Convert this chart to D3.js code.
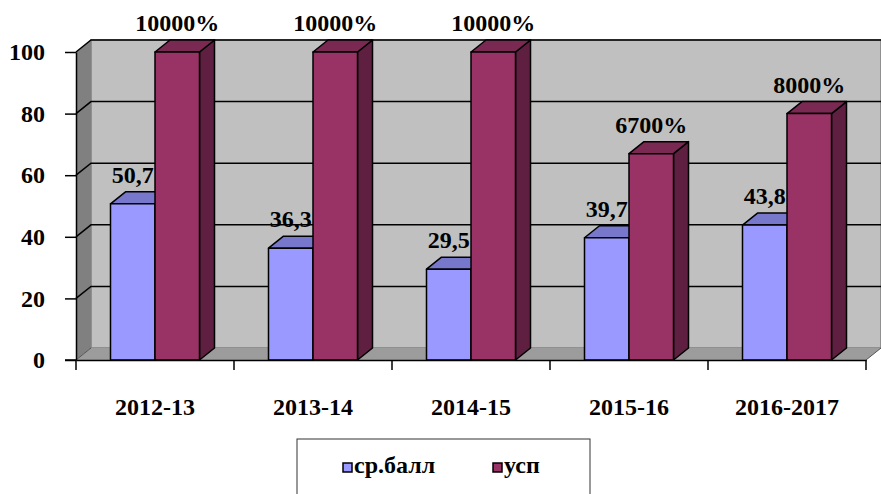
<!DOCTYPE html>
<html>
<head>
<meta charset="utf-8">
<script src="https://cdn.jsdelivr.net/npm/d3@7.9.0/dist/d3.min.js"></script>
<style>
  html, body { margin: 0; padding: 0; background: #fff; }
  text { font-family: 'Liberation Serif', 'DejaVu Serif', serif; font-weight: bold; }
</style>
</head>
<body>
<svg width="881" height="494"></svg>
<script>
// data
const years = ["2012-13", "2013-14", "2014-15", "2015-16", "2016-2017"];
const series = ["ср.балл", "усп"];
const avgScore = [50.7, 36.3, 29.5, 39.7, 43.8];
const success = [100, 100, 100, 67, 80];
const yTicks = [0, 20, 40, 60, 80, 100];

const colors = {
  "ср.балл": { front: "#9999ff", top: "#7777cc", side: "#6b6bb3" },
  "усп": { front: "#993366", top: "#7a2952", side: "#5e1f40" }
};

const FONT = "'Liberation Serif', 'DejaVu Serif', serif";

// depth offset of the 3d box
const dx = 15, dy = -12;

const svg = d3.select("svg");

const x0 = d3.scaleBand().domain(years).range([76, 866]).paddingInner(0).paddingOuter(0);
const x1 = d3.scaleBand().domain(series).range([0, x0.bandwidth()]).paddingInner(0).paddingOuter(0.775);
const y = d3.scaleLinear().domain([0, 100]).range([360, 52]);

const commaFmt = d3.formatLocale({ decimal: ",", thousands: " ", grouping: [3], currency: ["", ""] }).format(".1f");

const x0L = x0.range()[0], x0R = x0.range()[1];

// back wall
svg.append("polygon")
  .attr("points", [[x0L + dx, y(100) + dy], [x0R + dx, y(100) + dy], [x0R + dx, y(0) + dy], [x0L + dx, y(0) + dy]].join(" "))
  .attr("fill", "#c0c0c0")
  .attr("stroke", "#808080")
  .attr("stroke-width", 1.5);

// left side wall
svg.append("polygon")
  .attr("points", [[x0L, y(100)], [x0L + dx, y(100) + dy], [x0L + dx, y(0) + dy], [x0L, y(0)]].join(" "))
  .attr("fill", "#808080");

// floor
svg.append("polygon")
  .attr("points", [[x0L, y(0)], [x0R, y(0)], [x0R + dx, y(0) + dy], [x0L + dx, y(0) + dy]].join(" "))
  .attr("fill", "#9c9c9c");

// gridlines
const grid = svg.append("g").attr("stroke", "#000").attr("stroke-width", 1.5).attr("fill", "none");
yTicks.filter(t => t > 0).forEach(t => {
  grid.append("polyline")
    .attr("points", [[x0L, y(t)], [x0L + dx, y(t) + dy], [x0R + dx, y(t) + dy]].join(" "));
});
grid.append("polyline")
  .attr("points", [[x0L, y(0)], [x0L + dx, y(0) + dy]].join(" "))
  .attr("stroke", "#555")
  .attr("stroke-width", 1);
grid.append("polyline")
  .attr("points", [[x0R, y(0)], [x0R + dx, y(0) + dy]].join(" "))
  .attr("stroke", "#555")
  .attr("stroke-width", 1);

// bars
function bar3d(g, xl, w, v, c) {
  const yt = y(v), yb = y(0);
  g.append("polygon")
    .attr("points", [[xl + w, yt], [xl + w + dx, yt + dy], [xl + w + dx, yb + dy], [xl + w, yb]].join(" "))
    .attr("fill", c.side);
  g.append("polygon")
    .attr("points", [[xl, yt], [xl + dx, yt + dy], [xl + w + dx, yt + dy], [xl + w, yt]].join(" "))
    .attr("fill", c.top);
  g.append("rect")
    .attr("x", xl).attr("y", yt).attr("width", w).attr("height", yb - yt)
    .attr("fill", c.front);
  g.selectAll("polygon, rect").attr("stroke", "#000").attr("stroke-width", 1.5).attr("stroke-linejoin", "round");
}

years.forEach((yr, i) => {
  const g = svg.append("g");
  const bx = x0(yr) + x1("ср.балл");
  bar3d(g.append("g"), bx, x1.bandwidth(), avgScore[i], colors["ср.балл"]);
  g.append("text")
    .attr("x", bx + x1.bandwidth() / 2)
    .attr("y", y(avgScore[i]) - 21)
    .attr("text-anchor", "middle")
    .attr("font-family", FONT)
    .attr("font-size", 24)
    .text(commaFmt(avgScore[i]));
  const mx = x0(yr) + x1("усп");
  bar3d(g.append("g"), mx, x1.bandwidth(), success[i], colors["усп"]);
  g.append("text")
    .attr("x", mx + x1.bandwidth() / 2)
    .attr("y", y(success[i]) - 21)
    .attr("text-anchor", "middle")
    .attr("font-family", FONT)
    .attr("font-size", 24)
    .text(`${success[i] * 100}%`);
});

// y axis
const yAxis = svg.append("g")
  .attr("transform", `translate(${x0L},0)`)
  .call(d3.axisLeft(y).tickValues(yTicks).tickSize(11).tickPadding(20).tickSizeOuter(0));
yAxis.attr("font-family", FONT).attr("font-size", 24);
yAxis.select(".domain").attr("stroke-width", 1.5);
yAxis.selectAll(".tick line").attr("stroke-width", 1.5);
yAxis.selectAll("text").attr("fill", "#000");

// x axis
const xAxis = svg.append("g")
  .attr("transform", `translate(0,${y(0)})`)
  .call(d3.axisBottom(x0).tickSize(0).tickPadding(38).tickSizeOuter(0));
xAxis.attr("font-family", FONT).attr("font-size", 24);
xAxis.select(".domain").attr("stroke-width", 1.5);
xAxis.selectAll("text").attr("fill", "#000");
xAxis.selectAll(".bound")
  .data([...years.map(d => x0(d)), x0R])
  .join("line")
  .attr("class", "bound")
  .attr("x1", d => d).attr("x2", d => d)
  .attr("y1", 0).attr("y2", 10)
  .attr("stroke", "#000").attr("stroke-width", 1.5);
svg.append("line")
  .attr("x1", x0L - 11).attr("x2", x0L)
  .attr("y1", y(0)).attr("y2", y(0))
  .attr("stroke", "#000").attr("stroke-width", 1.5);

// legend
const legend = svg.append("g");
legend.append("rect")
  .attr("x", 297).attr("y", 439).attr("width", 293).attr("height", 70)
  .attr("fill", "#fff").attr("stroke", "#333").attr("stroke-width", 1);
const legX = [343, 493];
series.forEach((s, i) => {
  legend.append("rect")
    .attr("x", legX[i]).attr("y", 463).attr("width", 9).attr("height", 9)
    .attr("fill", colors[s].front).attr("stroke", "#000").attr("stroke-width", 1.5);
  legend.append("text")
    .attr("x", legX[i] + 11).attr("y", 473)
    .attr("font-family", FONT)
    .attr("font-size", 24)
    .text(s);
});
</script>
</body>
</html>
